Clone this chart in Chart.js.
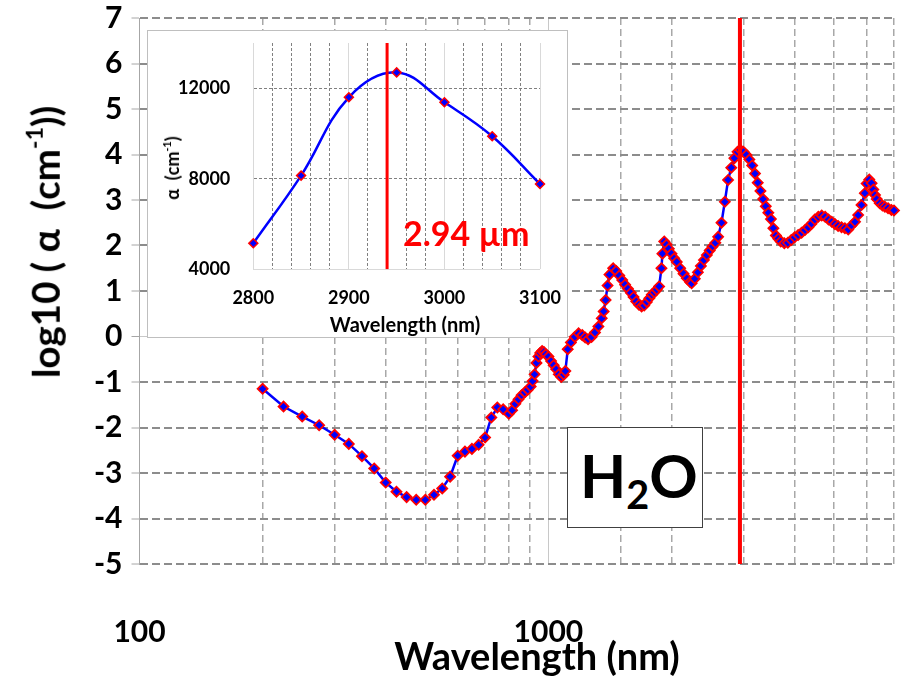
<!DOCTYPE html>
<html>
<head>
<meta charset="utf-8">
<script src="https://cdn.jsdelivr.net/npm/chart.js@4.4.1/dist/chart.umd.min.js"></script>
<style>
  html, body { margin: 0; padding: 0; background: #fff; }
  #wrap { position: relative; width: 905px; height: 676px; font-family: Lato, "Open Sans", sans-serif; color: #000; }
  #main { position: absolute; left: 0; top: 0; }
  .title { position: absolute; font-weight: bold; white-space: nowrap; line-height: 1; }
  .title sup { font-size: 0.6em; vertical-align: 0.75em; line-height: 0; }
  #ytitle { left: 45px; top: 242px; font-size: 38.5px; transform: translate(-50%, -50%) rotate(-90deg); }
  #xtitle { left: 537px; top: 655px; font-size: 38px; transform: translate(-50%, -50%); }
  #inset { position: absolute; left: 147px; top: 30px; width: 421px; height: 308px; box-sizing: border-box; border: 1px solid #bfbfbf; background: #fff; }
  #insetCanvas { position: absolute; left: 0; top: 0; }
  #iytitle { left: 172px; top: 168px; font-size: 18px; transform: translate(-50%, -50%) rotate(-90deg); }
  #ixtitle { left: 405px; top: 324px; font-size: 20px; transform: translate(-50%, -50%); }
  #mark { position: absolute; left: 403px; top: 214px; color: #ff0000; font-weight: bold; font-size: 34px; line-height: 38px; white-space: nowrap; }
  #h2o { position: absolute; left: 567px; top: 427px; width: 136px; height: 101px; box-sizing: border-box; border: 1px solid #404040; background: #fff; font-weight: bold; font-size: 60px; line-height: 1; }
  #h2o span.t { position: absolute; left: 12px; top: 17px; white-space: nowrap; }
  #h2o sub { font-size: 0.66em; vertical-align: -0.28em; line-height: 0; }
</style>
</head>
<body>
<div id="wrap">
  <canvas id="main" width="905" height="676"></canvas>
  <div class="title" id="ytitle">log10 ( α&nbsp; (cm<sup>-1</sup>))</div>
  <div class="title" id="xtitle">Wavelength (nm)</div>
  <div id="inset"><canvas id="insetCanvas" width="419" height="306"></canvas></div>
  <div class="title" id="iytitle">α&nbsp; (cm<sup>-1</sup>)</div>
  <div class="title" id="ixtitle">Wavelength (nm)</div>
  <div id="mark">2.94 µm</div>
  <div id="h2o"><span class="t">H<sub>2</sub>O</span></div>
</div>
<script>
'use strict';

// main spectrum: wavelength (nm) and log10 of absorption coefficient (cm-1)
const wavelengths = [
    200, 225, 250, 275, 300, 325, 350, 375, 400, 425, 450, 475, 500, 525, 550, 575, 600, 625, 650, 675, 700, 725, 750, 775, 800,
    815, 830, 845, 860, 875, 890, 905, 915, 925, 935, 945, 955, 965, 975, 985, 1000,
    1015, 1030, 1045, 1060, 1075, 1090, 1100, 1115, 1135, 1160, 1185, 1210, 1230, 1250, 1275, 1300, 1325, 1350, 1365, 1380, 1395, 1410, 1440,
    1465, 1490, 1515, 1540, 1565, 1590, 1615, 1640, 1665, 1690, 1715, 1740, 1765, 1790, 1815, 1840, 1865, 1890, 1900, 1920,
    1945, 1970, 2000, 2030, 2060, 2100, 2140, 2180, 2220, 2240, 2280, 2320, 2360, 2400, 2440, 2480, 2520, 2560, 2600, 2650, 2700, 2750, 2800, 2850, 2900, 2950,
    3000, 3050, 3100, 3150, 3200, 3250, 3300, 3350, 3400, 3450, 3500, 3550, 3600, 3650, 3700, 3775, 3850, 3925,
    4000, 4080, 4160, 4240, 4320, 4400, 4480, 4570, 4660, 4750, 4840, 4930, 5020, 5110, 5210, 5310, 5410, 5510,
    5620, 5720, 5830, 5940, 6000, 6090, 6170, 6230, 6290, 6350, 6460, 6560, 6650, 6770, 6900, 7000
];
const logAlpha = [
    -1.15, -1.54, -1.76, -1.95, -2.16, -2.36, -2.63, -2.90, -3.21, -3.41, -3.53, -3.59, -3.59, -3.48, -3.34, -3.08, -2.62, -2.53, -2.47, -2.38, -2.22, -1.78, -1.56, -1.60, -1.70,
    -1.62, -1.48, -1.38, -1.29, -1.23, -1.17, -1.10, -0.98, -0.83, -0.58, -0.44, -0.36, -0.32, -0.34, -0.39, -0.44,
    -0.54, -0.63, -0.72, -0.83, -0.89, -0.84, -0.76, -0.28, -0.13, -0.01, 0.07, 0.03, -0.02, -0.06, -0.01, 0.09, 0.22, 0.40, 0.55, 0.80, 1.12, 1.36, 1.50,
    1.44, 1.34, 1.24, 1.14, 1.05, 0.96, 0.87, 0.77, 0.70, 0.66, 0.68, 0.76, 0.84, 0.92, 0.97, 1.03, 1.10, 1.50, 1.82, 2.09,
    2.02, 1.93, 1.82, 1.72, 1.64, 1.50, 1.38, 1.28, 1.20, 1.17, 1.27, 1.41, 1.55, 1.68, 1.79, 1.89, 1.98, 2.06, 2.19, 2.50, 2.96, 3.44, 3.71, 3.92, 4.06, 4.10,
    4.06, 3.99, 3.89, 3.76, 3.58, 3.38, 3.20, 3.02, 2.86, 2.72, 2.58, 2.38, 2.22, 2.15, 2.09, 2.05, 2.06, 2.12,
    2.18, 2.23, 2.28, 2.34, 2.40, 2.48, 2.57, 2.63, 2.66, 2.63, 2.57, 2.52, 2.47, 2.43, 2.40, 2.38, 2.35, 2.44,
    2.52, 2.67, 2.89, 3.15, 3.36, 3.45, 3.37, 3.23, 3.11, 3.02, 2.93, 2.88, 2.85, 2.82, 2.78, 2.77
];

// inset: absorption coefficient (cm-1) around the 2.94 um peak
const insetWavelengths = [2800, 2850, 2900, 2950, 3000, 3050, 3100];
const insetAlpha = [5150, 8140, 11600, 12700, 11380, 9880, 7770];
const insetYTicks = [4000, 8000, 12000];

const peakWavelength = 2940;
const xRange = [100, 7000];
const yRange = [-5, 7];
const insetXRange = [2800, 3100];
const insetYRange = [4000, 14000];

const blueColor = '#0000ff',
    redColor = '#ff0000',
    dashGrey = '#8c8c8c',
    dashGreyLight = '#a8a8a8',
    solidGrey = '#c8c8c8',
    clear = 'rgba(0,0,0,0)',
    fontFamily = 'Lato, "Open Sans", sans-serif';

Chart.defaults.font.family = fontFamily;

const isDecade = v => Math.abs(Math.log10(v) - Math.round(Math.log10(v))) < 1e-9;
const tickVal = ctx => (ctx.tick ? ctx.tick.value : null);

// Main chart
// --------------------------------------------------------------------
new Chart(document.getElementById('main'), {
    type: 'line',
    data: {
        datasets: [
            {
                data: [{ x: peakWavelength, y: yRange[0] }, { x: peakWavelength, y: yRange[1] }],
                borderColor: redColor,
                borderWidth: 4,
                pointRadius: 0
            },
            {
                data: wavelengths.map((w, i) => ({ x: w, y: logAlpha[i] })),
                borderColor: blueColor,
                borderWidth: 2.5,
                pointStyle: 'rectRot',
                pointRadius: 5,
                pointBackgroundColor: blueColor,
                pointBorderColor: redColor,
                pointBorderWidth: 1.8,
                tension: 0,
                clip: 8
            }
        ]
    },
    options: {
        responsive: false,
        animation: false,
        layout: { padding: { top: 18, right: 11, bottom: 0, left: 0 } },
        plugins: { legend: { display: false }, tooltip: { enabled: false } },
        scales: {
            x: {
                type: 'logarithmic',
                min: xRange[0],
                max: xRange[1],
                afterFit: s => { s.height = 112; },
                grid: {
                    drawTicks: true,
                    tickLength: 46,
                    tickColor: clear,
                    color: ctx => (isDecade(tickVal(ctx)) ? solidGrey : dashGreyLight),
                    lineWidth: ctx => (isDecade(tickVal(ctx)) ? 1 : 1.5)
                },
                border: {
                    display: false,
                    dash: ctx => (ctx.tick && !isDecade(ctx.tick.value) ? [7, 4] : [])
                },
                ticks: {
                    autoSkip: false,
                    maxRotation: 0,
                    padding: 4,
                    color: '#000',
                    font: { size: 30, weight: 'bold' },
                    callback: v => (isDecade(v) ? String(v) : '')
                }
            },
            y: {
                min: yRange[0],
                max: yRange[1],
                afterFit: s => { s.width = 139.5; },
                grid: {
                    tickLength: 8,
                    tickColor: '#a6a6a6',
                    tickWidth: 1,
                    tickBorderDash: [],
                    color: ctx => (tickVal(ctx) === 0 ? solidGrey : dashGrey),
                    lineWidth: ctx => (tickVal(ctx) === 0 ? 1 : 2)
                },
                border: {
                    display: true,
                    color: '#a6a6a6',
                    width: 1,
                    dash: ctx => (ctx.tick && ctx.tick.value !== 0 ? [8, 4] : [])
                },
                ticks: {
                    stepSize: 1,
                    padding: 9,
                    color: '#000',
                    font: { size: 30, weight: 'bold', lineHeight: 0.6 }
                }
            }
        }
    }
});

// Inset chart
// --------------------------------------------------------------------
new Chart(document.getElementById('insetCanvas'), {
    type: 'line',
    data: {
        datasets: [
            {
                data: [{ x: peakWavelength, y: insetYRange[0] }, { x: peakWavelength, y: insetYRange[1] }],
                borderColor: redColor,
                borderWidth: 3,
                pointRadius: 0
            },
            {
                data: insetWavelengths.map((w, i) => ({ x: w, y: insetAlpha[i] })),
                borderColor: blueColor,
                borderWidth: 2.5,
                pointStyle: 'rectRot',
                pointRadius: 4.5,
                pointBackgroundColor: blueColor,
                pointBorderColor: redColor,
                pointBorderWidth: 1.5,
                tension: 0.4,
                clip: 8
            }
        ]
    },
    options: {
        responsive: false,
        animation: false,
        layout: { padding: { top: 12, right: 27, bottom: 0, left: 0 } },
        plugins: { legend: { display: false }, tooltip: { enabled: false } },
        scales: {
            x: {
                type: 'linear',
                min: insetXRange[0],
                max: insetXRange[1],
                afterFit: s => { s.height = 67.7; },
                grid: {
                    drawTicks: true,
                    tickLength: 14,
                    tickColor: clear,
                    color: ctx => (tickVal(ctx) % 100 === 0 ? '#d9d9d9' : '#808080'),
                    lineWidth: 1
                },
                border: {
                    display: false,
                    dash: ctx => (ctx.tick && ctx.tick.value % 100 !== 0 ? [3, 2] : [])
                },
                ticks: {
                    stepSize: 20,
                    autoSkip: false,
                    maxRotation: 0,
                    padding: 4,
                    color: '#000',
                    font: { size: 18, weight: 'bold' },
                    callback: v => (v % 100 === 0 ? String(v) : '')
                }
            },
            y: {
                min: insetYRange[0],
                max: insetYRange[1],
                afterFit: s => { s.width = 105.3; },
                afterBuildTicks: s => { s.ticks = insetYTicks.map(v => ({ value: v })); },
                grid: {
                    drawTicks: true,
                    tickLength: 18,
                    tickColor: clear,
                    color: ctx => (tickVal(ctx) === insetYRange[0] ? '#d9d9d9' : '#808080'),
                    lineWidth: 1
                },
                border: {
                    display: true,
                    color: '#d9d9d9',
                    width: 1,
                    dash: ctx => (ctx.tick && ctx.tick.value !== insetYRange[0] ? [3, 2] : [])
                },
                ticks: {
                    padding: 5,
                    color: '#000',
                    font: { size: 18, weight: 'bold', lineHeight: 0.6 },
                    callback: v => String(v)
                }
            }
        }
    }
});
</script>
</body>
</html>
